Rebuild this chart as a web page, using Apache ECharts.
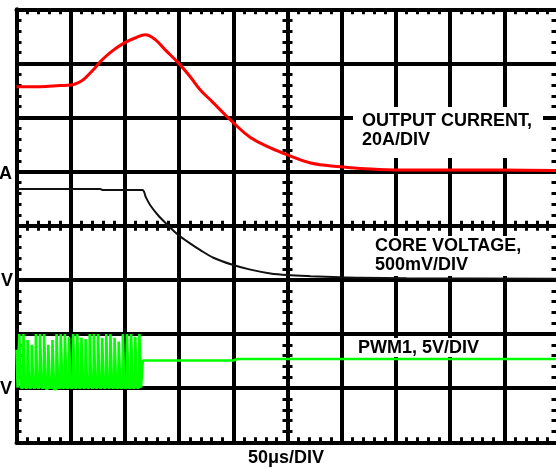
<!DOCTYPE html>
<html><head><meta charset="utf-8">
<script src="https://cdn.jsdelivr.net/npm/echarts@6/dist/echarts.min.js"></script>
<style>html,body{margin:0;padding:0;background:#fff}#c{width:556px;height:468px}</style>
</head><body><div id="c"></div>
<script>
// Time axis in microseconds (50 us/DIV), vertical axis in screen divisions (0 = bottom)
const timeMin = 0, timeMax = 500, timeStep = 50;
const divMin = 0, divMax = 8, divStep = 1;

// OUTPUT CURRENT trace (red)
const redTime = [0, 21.7, 40.2, 49.5, 54.0, 58.7, 63.3, 72.5, 77.2, 86.4, 99.4, 109.5, 118.8, 128.0, 137.2, 149.3, 160.4, 169.6, 180.7, 194.5, 199.2, 215.8, 234.3, 250.0, 271.3, 299.0, 317.5, 354.5, 400.7, 446.9, 500];
const redDiv  = [6.57, 6.57, 6.59, 6.60, 6.62, 6.66, 6.73, 6.92, 7.03, 7.20, 7.38, 7.47, 7.53, 7.44, 7.25, 7.01, 6.75, 6.51, 6.29, 6.01, 5.92, 5.63, 5.44, 5.31, 5.16, 5.09, 5.06, 5.03, 5.03, 5.03, 5.02];

// CORE VOLTAGE trace (black)
const coreTime = [0, 77.2, 79.9, 116.0, 119.5, 123.4, 130.8, 139.1, 149.3, 160.4, 169.6, 181.6, 199.2, 215.8, 234.3, 250.0, 271.3, 299.0, 317.5, 360, 500];
const coreDiv  = [4.68, 4.68, 4.66, 4.66, 4.52, 4.38, 4.19, 4.02, 3.83, 3.67, 3.55, 3.41, 3.28, 3.19, 3.12, 3.09, 3.07, 3.05, 3.04, 3.03, 3.02];

// PWM1 trace (green): switching pulses then idle (tri-state) level
const pwmStart = 2.3, pwmPeriod = 3.82;
const pwmHigh = [2.00, 2.00, 1.89, 1.80, 2.00, 2.00, 2.00, 1.80, 1.89, 2.00, 2.00, 2.00, 1.95, 2.00, 2.00, 1.93, 1.91, 2.00, 2.00, 2.00, 1.93, 2.00, 2.00, 1.93, 1.86, 2.00, 2.00, 2.00, 1.95, 2.00];
const pwmLow  = [1.01, 1.01, 1.01, 1.01, 1.01, 1.01, 0.99, 1.01, 0.98, 1.01, 1.01, 1.01, 1.01, 1.01, 1.01, 1.01, 1.01, 1.01, 1.01, 1.01, 1.01, 1.01, 1.01, 1.01, 1.01, 1.01, 1.01, 1.01, 1.01, 1.01];
const pwmIdleTime = [116.5, 200, 204, 500];
const pwmIdleDiv  = [1.51, 1.51, 1.54, 1.54];

const redData = redTime.map((t, i) => [t, redDiv[i]]);
const coreData = coreTime.map((t, i) => [t, coreDiv[i]]);
const pwmData = [[0, 1.71], [1.0, 1.01]];
pwmHigh.forEach((h, i) => {
  const t0 = pwmStart + i * pwmPeriod;
  pwmData.push([t0, i ? pwmLow[i - 1] : 1.01], [t0 + 0.3, h], [t0 + 1.5, h], [t0 + 1.8, pwmLow[i]]);
});
pwmData.push([115.6, pwmLow[pwmLow.length - 1]]);
pwmIdleTime.forEach((t, i) => pwmData.push([t, pwmIdleDiv[i]]));

const black = '#000';
const font = '"Liberation Sans", Arial, Helvetica, sans-serif';

function xAx(position, offset, inside, showLine, showSplit, len) {
  return {
    type: 'value', min: timeMin, max: timeMax, interval: timeStep, position, offset,
    axisLine: { show: showLine, onZero: false, lineStyle: { color: black, width: 4 } },
    axisTick: { show: false, inside },
    minorTick: { show: true, splitNumber: 5, length: len, lineStyle: { color: black, width: 3 } },
    axisLabel: { show: false },
    splitLine: { show: showSplit, lineStyle: { color: black, width: 4 } },
    minorSplitLine: { show: false }
  };
}
function yAx(position, offset, inside, showLine, showSplit, len) {
  return {
    type: 'value', min: divMin, max: divMax, interval: divStep, position, offset,
    axisLine: { show: showLine, onZero: false, lineStyle: { color: black, width: 4 } },
    axisTick: { show: false, inside },
    minorTick: { show: true, splitNumber: 5, length: len, lineStyle: { color: black, width: 3 } },
    axisLabel: { show: false },
    splitLine: { show: showSplit, lineStyle: { color: black, width: 4 } },
    minorSplitLine: { show: false }
  };
}
function label(text, x, y, align) {
  return { type: 'text', z: 60, x, y, style: { text, fontFamily: font, fontSize: 18, fontWeight: 'bold', fill: black, align: align || 'left', verticalAlign: 'middle' } };
}

const chart = echarts.init(document.getElementById('c'), null, { renderer: 'canvas' });
chart.setOption({
  backgroundColor: '#fff',
  animation: false,
  grid: { left: 16.5, top: 9.3, width: 542, height: 433, outerBoundsMode: 'none' },
  xAxis: [
    xAx('bottom', 0, true, true, true, 5),
    xAx('top', 0, true, true, false, 5),
    xAx('bottom', -216.5, true, false, false, 5),
    xAx('bottom', -216.5, false, false, false, 5)
  ],
  yAxis: [
    yAx('left', 0, true, true, true, 5),
    yAx('right', 0, true, true, false, 7),
    yAx('left', -271, true, false, false, 5),
    yAx('left', -271, false, false, false, 5)
  ],
  series: [
    { type: 'line', data: redData, showSymbol: false, smooth: 0.4, lineStyle: { color: '#ff0000', width: 3 }, z: 5 },
    { type: 'line', data: coreData, showSymbol: false, smooth: 0.3, lineStyle: { color: '#111', width: 2 }, z: 5 },
    { type: 'line', data: pwmData, showSymbol: false, lineStyle: { color: '#00ff00', width: 2.6 }, z: 6 }
  ],
  graphic: [
    { type: 'rect', z: 50, shape: { x: 353, y: 107, width: 190, height: 51 }, style: { fill: '#fff' } },
    { type: 'rect', z: 50, shape: { x: 366, y: 236, width: 176, height: 40 }, style: { fill: '#fff' } },
    { type: 'rect', z: 50, shape: { x: 352, y: 338, width: 136, height: 19 }, style: { fill: '#fff' } },
    label('OUTPUT CURRENT,', 362, 121.5),
    label('20A/DIV', 362, 140),
    label('CORE VOLTAGE,', 375, 246.5),
    label('500mV/DIV', 375, 265),
    label('PWM1, 5V/DIV', 358, 348.3),
    label('50μs/DIV', 248, 458.3),
    label('A', 12, 174, 'right'),
    label('V', 13, 281.5, 'right'),
    label('V', 12, 389.5, 'right')
  ]
});
</script>
</body></html>
